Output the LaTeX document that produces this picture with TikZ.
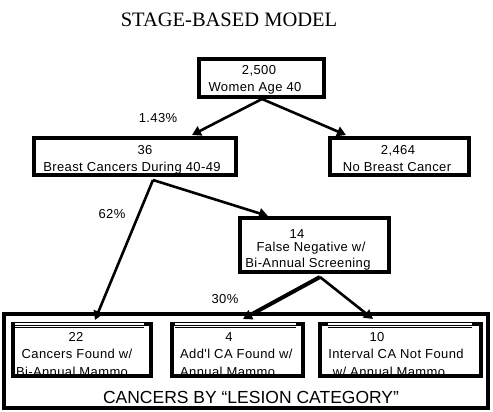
\documentclass[tikz,border=0pt]{standalone}
\usepackage{fontspec}
\setmainfont{Liberation Sans}
\newfontfamily\serifttl{Liberation Serif}
\newfontfamily\lab[LetterSpace=3]{Liberation Sans}
\usetikzlibrary{arrows.meta}
\begin{document}
\begin{tikzpicture}[x=1pt,y=-1pt,
  txt/.style={font=\lab\fontsize{13}{15}\selectfont, anchor=base, inner sep=0},
  txtl/.style={txt, anchor=base west},
  box/.style={draw, line width=3.5pt, rectangle, inner sep=0},
  arr/.style={line width=2.6pt, -{Triangle[length=9pt,width=10pt]}},
  bline/.style={line width=3.5pt, line join=miter},
  thin/.style={line width=0.7pt},
]
\useasboundingbox (0,0) rectangle (493,412);
\fill[white] (0,0) rectangle (493,412);

% title
\node[anchor=base, inner sep=0, font=\serifttl\fontsize{20.5}{24}\selectfont] (title) at (229,27) {STAGE-BASED MODEL};

% upper boxes
\node[box, minimum width=125pt, minimum height=38pt] (top) at (261.5,78) {};
\node[box, minimum width=202pt, minimum height=37pt] (b36) at (135,156.5) {};
\node[box, minimum width=139pt, minimum height=37pt] (b2464) at (399.5,156.5) {};
\node[box, minimum width=149pt, minimum height=54pt] (b14) at (314.5,245) {};
\node[box, line width=4pt, minimum width=484pt, minimum height=94pt] (outer) at (246,361) {};

% texts in upper boxes
\node[txt] (t2500) at (259,75) {2,500};
\node[txt] (twomen) at (255,92) {Women Age 40};
\node[txt] (t36) at (145,154) {36};
\node[txt] (tbc) at (132,171) {Breast Cancers During 40-49};
\node[txt] (t2464) at (398,154) {2,464};
\node[txt] (tnobc) at (397,171) {No Breast Cancer};
\node[txt] (t14) at (297,238) {14};
\node[txt] (tfn) at (311,251) {False Negative w/};
\node[txt] (tbi) at (308,267) {Bi-Annual Screening};

% percentages
\node[txt] (p143) at (158,122) {1.43\%};
\node[txt] (p62) at (112,218) {62\%};
\node[txt] (p30) at (225,303) {30\%};

% lower box texts
\node[txt] (t22) at (76,341) {22};
\node[txt] (tcf) at (77,358) {Cancers Found w/};
\node[txt] (tbam) at (72,376) {Bi-Annual Mammo};
\node[txt] (t4) at (229,341) {4};
\node[txtl] (tadd) at (180,358) {Add'l CA Found w/};
\node[txtl] (tam) at (180,376) {Annual Mammo};
\node[txt] (t10) at (377,341) {10};
\node[txt] (ticna) at (396,358) {Interval CA Not Found};
\node[txt] (twam) at (389,376) {w/ Annual Mammo};

\node[anchor=base, inner sep=0, font=\fontsize{17.5}{20}\selectfont] (tcat) at (251,403) {CANCERS BY “LESION CATEGORY”};

% lower boxes
\foreach \xa/\xb/\la/\lb in {13/151/15/144, 172/303/175/296, 320/481/328/472}{
  \draw[bline] (\la,324) -- (\xa,324) -- (\xa,376) -- (\xb,376) -- (\xb,324) -- (\lb,324);
  \foreach \yy in {322.6,325,327.4}{
    \draw[thin] (\la,\yy) -- (\lb,\yy);
  }
}

% connector end points
\coordinate (topbot) at (262,99);
\coordinate (in36) at (192,135);
\coordinate (in2464) at (346,135);
\coordinate (out36) at (153,180);
\coordinate (in14) at (268,216);
\coordinate (in22) at (95,320);
\coordinate (out14) at (320,277);
\coordinate (in4) at (243,319);
\coordinate (in10) at (373,319);

\draw[arr] (topbot) -- (in36);
\draw[arr] (topbot) -- (in2464);
\draw[arr] (out36) -- (in14);
\draw[arr] (out36) -- (in22);
\draw[arr, line width=4pt] (out14) -- (in4);
\draw[arr] (out14) -- (in10);
\end{tikzpicture}
\end{document}
